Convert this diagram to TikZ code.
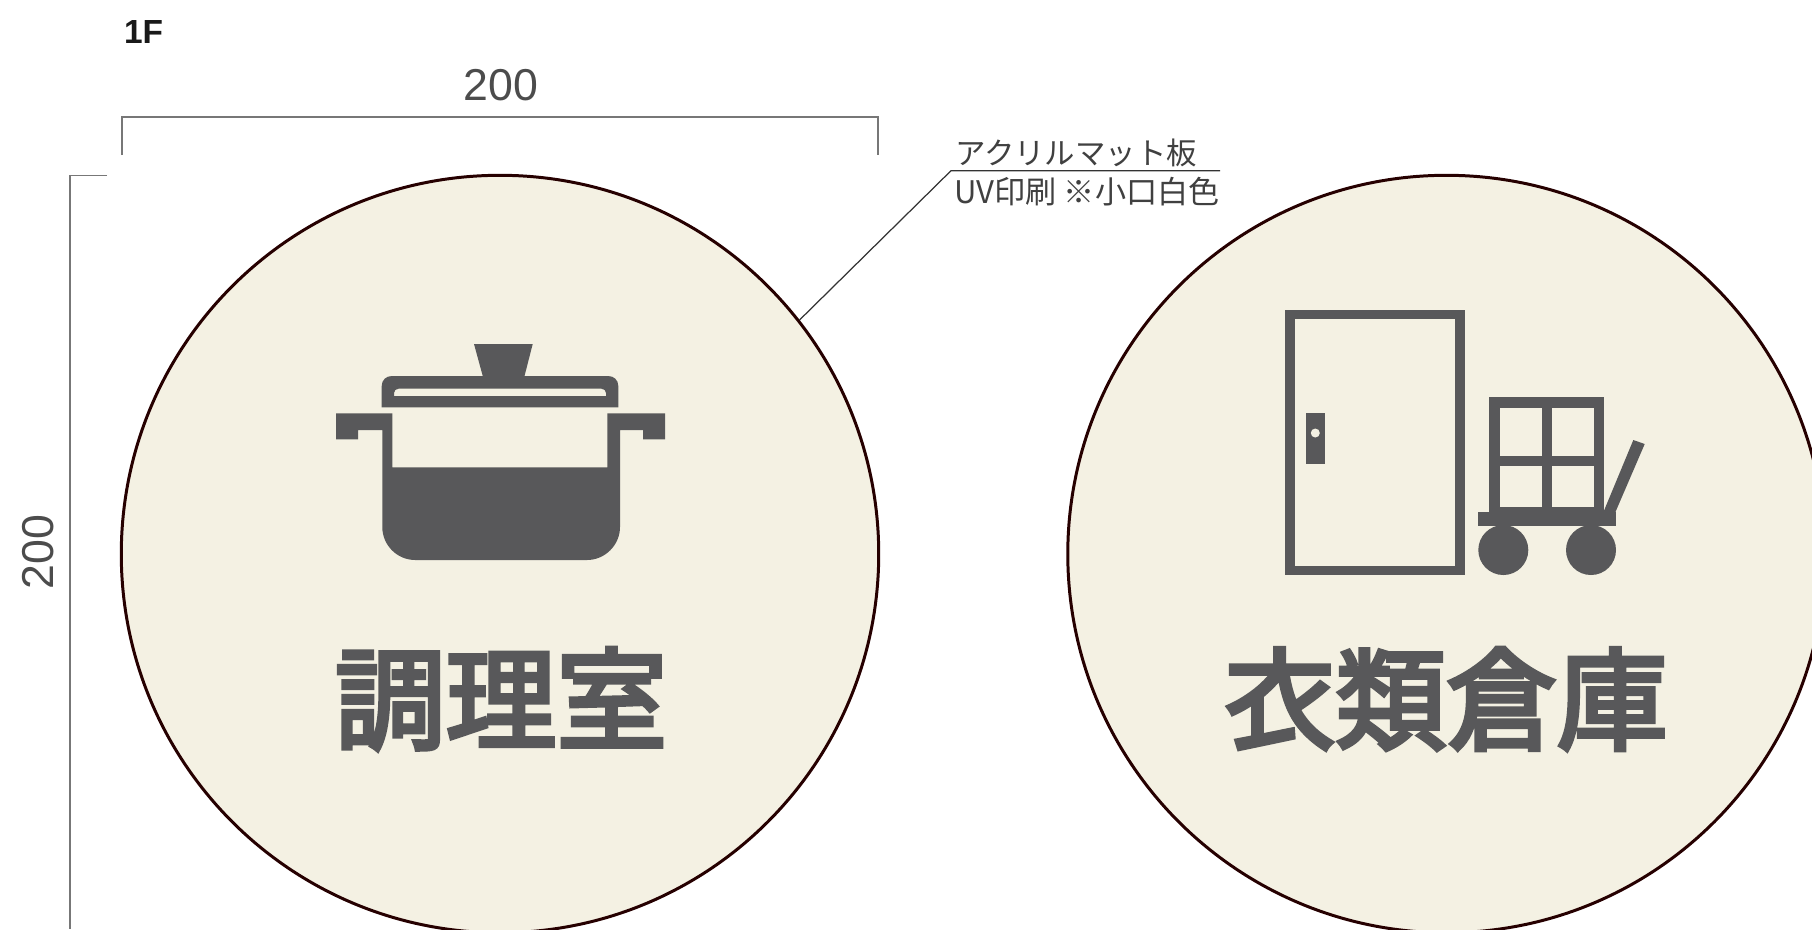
\documentclass[tikz,border=0pt]{standalone}
\usepackage{fontspec}
\setmainfont{Liberation Sans}
\newfontfamily\jpfont{Noto Sans CJK JP}
\newfontfamily\signfont[FakeBold=4]{Noto Sans CJK JP}
\usetikzlibrary{positioning}
\definecolor{signbase}{HTML}{F4F1E3}
\definecolor{signink}{HTML}{58585A}
\definecolor{dimgray}{HTML}{777777}
\tikzset{
    signnode/.style = {circle, draw=black!85!red, line width=0.85pt, fill=signbase, minimum size=7.57cm, inner sep=0},
    signtext/.style = {inner sep=0, text=signink, font=\signfont\fontsize{31.5}{32}\selectfont},
    dimtext/.style = {inner sep=0, text=black!70, font=\fontsize{12.7}{14}\selectfont},
    notetext/.style = {inner sep=0, text=black!75, font=\jpfont\fontsize{8.65}{9}\selectfont},
    edgedim/.style = {-, line width=0.35pt, dimgray},
    edgenote/.style = {-, line width=0.35pt, black!80},
    iconfill/.style = {fill=signink, draw=none},
    iconline/.style = {draw=signink, fill=none, line width=2.7pt, miter limit=10},
    cartline/.style = {draw=signink, fill=none, line width=2.95pt, miter limit=10},
}
\begin{document}
\begin{tikzpicture}[x=0.01cm,y=-0.01cm]
\useasboundingbox (0,0) rectangle (1812,929);
\clip (0,0) rectangle (1812,929);

\node[signnode] at (500,554) (room1) {};
\node[signnode] at (1446.5,554) (room2) {};

% labels
\node[inner sep=0, text=black!90, font=\bfseries\fontsize{9.5}{10}\selectfont] at (143.5,32) (floor) {1F};
\node[dimtext] at (501,85) (dimw) {200};
\node[dimtext, rotate=90] at (38,552) (dimh) {200};
\node[signtext] at (501,699) (name1) {調理室};
\node[signtext] at (1446,699) (name2) {衣類倉庫};
\node[notetext] at (1076,153) (note1) {アクリルマット板};
\node[notetext, font=\jpfont\fontsize{8.85}{9}\selectfont] at (1087,192) (note2) {UV印刷 ※小口白色};

% dimension lines
\coordinate (w1) at (122,155);
\coordinate (w2) at (122,117);
\coordinate (w3) at (878,117);
\coordinate (w4) at (878,155);
\coordinate (h1) at (107,175.5);
\coordinate (h2) at (70,175.5);
\coordinate (h3) at (70,929);
\draw[edgedim] (w1) -- (w2) -- (w3) -- (w4);
\draw[edgedim] (h1) -- (h2) -- (h3);

% leader
\coordinate (bend) at (951,170.7);
\coordinate (noteend) at (1220,170.7);
\draw[edgenote] (room1.38.5) -- (bend) -- (noteend);

% pot
\fill[iconfill] (474,344) -- (532.7,344) -- (524,378) -- (483.3,378) -- cycle;
\fill[iconfill, even odd rule] (381.7,407.3) -- (381.7,386) .. controls (381.7,380) and (386,376) .. (392,376) -- (608,376)
  .. controls (614,376) and (618.3,380) .. (618.3,386) -- (618.3,407.3) -- cycle
  (394,396) -- (394,393) .. controls (394,390.5) and (396,388.7) .. (398.5,388.7) -- (601.5,388.7)
  .. controls (604,388.7) and (606,390.5) .. (606,393) -- (606,396) -- cycle;
\fill[iconfill] (336,413.3) -- (392.3,413.3) -- (392.3,467.3) -- (607.3,467.3) -- (607.3,413.3) -- (665,413.3)
  -- (665,439.3) -- (643,439.3) -- (643,430) -- (620,430) -- (620,527)
  .. controls (620,545) and (605,560) .. (587,560) -- (415.3,560)
  .. controls (397,560) and (382.3,545) .. (382.3,527) -- (382.3,430) -- (358,430) -- (358,439.3) -- (336,439.3) -- cycle;

% door
\draw[iconline] (1290.2,314.5) rectangle (1459.8,570.5);
\fill[iconfill] (1305.7,413.3) rectangle (1325.3,464);
\fill[signbase] (1315.3,433) circle[radius=4.5];

% cart
\draw[cartline] (1494.5,402.5) rectangle (1599.2,512);
\draw[cartline] (1546.7,402.5) -- (1546.7,512);
\draw[cartline] (1494.5,460.7) -- (1599.2,460.7);
\fill[iconfill] (1478.3,511.7) rectangle (1615.7,526);
\fill[iconfill] (1503.3,550) circle[radius=25];
\fill[iconfill] (1591,550) circle[radius=25];
\fill[iconfill] (1633.3,440) -- (1644.7,444) -- (1615,513) -- (1603,513) -- cycle;

\end{tikzpicture}
\end{document}
